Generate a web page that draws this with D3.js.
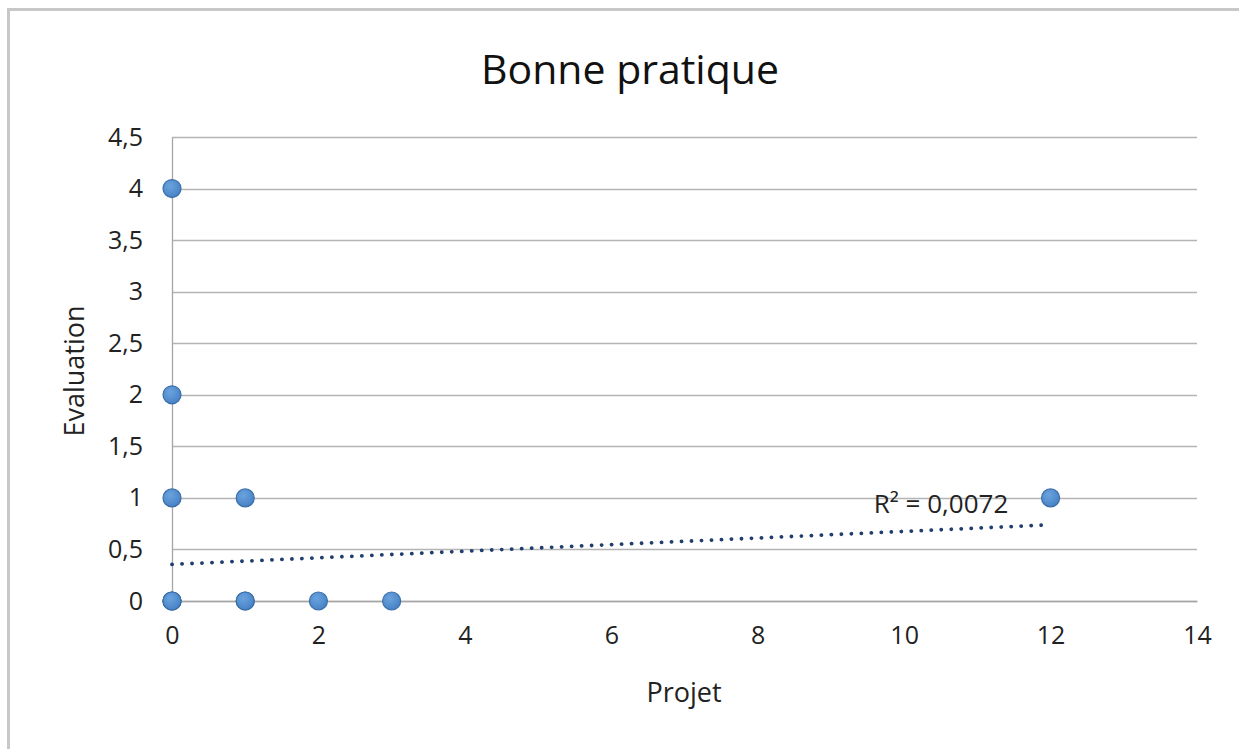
<!DOCTYPE html>
<html lang="fr">
  <head>
    <meta charset="UTF-8">
    <title>Bonne pratique</title>
    <style>
      body { margin: 0; background: #fff; }
      svg, svg text { font-family: "Open Sans", "Noto Sans", sans-serif; }
    </style>
    <script src="https://d3js.org/d3.v7.min.js"></script>
    <script>
      // x = projet, y = evaluation (some points overlap)
      var projet     = [0, 0, 0, 0, 0, 0, 1, 1, 1, 2, 3, 12];
      var evaluation = [4, 2, 1, 0, 0, 0, 1, 0, 0, 0, 0, 1];
      // linear trend line as drawn (intercept, slope) and its label
      var trend = [0.355, 0.032];
      var trendRange = [0, 12];
      var r2Label = "R² = 0,0072";
      var xTicks = [0, 2, 4, 6, 8, 10, 12, 14];
      var yTicks = [0, 0.5, 1, 1.5, 2, 2.5, 3, 3.5, 4, 4.5];

      window.onload = function () {
        var width = 1239, height = 749;
        var left = 172, right = 1197, top = 137, bottom = 601;

        var svg = d3.select("body").append("svg")
          .attr("width", width)
          .attr("height", height);

        // chart frame
        svg.append("rect")
          .attr("x", 8.5).attr("y", 9.5)
          .attr("width", 1260).attr("height", 780)
          .attr("fill", "#fff")
          .attr("stroke", "#c8c8c8")
          .attr("stroke-width", 3);

        var x = d3.scaleLinear().domain([0, 14]).range([left, right]);
        var y = d3.scaleLinear().domain([0, 4.5]).range([bottom, top]);
        var fmt = function (d) { return String(d).replace(".", ","); };

        // horizontal gridlines
        svg.append("g").selectAll("line").data(yTicks).enter().append("line")
          .attr("x1", left).attr("x2", right)
          .attr("y1", function (d) { return Math.round(y(d)) + 0.5; })
          .attr("y2", function (d) { return Math.round(y(d)) + 0.5; })
          .attr("stroke", "#b4b4b4")
          .attr("stroke-width", 1.3);

        var yAxis = d3.axisLeft(y).tickValues(yTicks).tickFormat(fmt).tickSize(0).tickPadding(29);
        var gy = svg.append("g").attr("transform", "translate(" + left + ",0)").call(yAxis)
          .attr("font-family", null).attr("font-size", null);
        gy.select(".domain").attr("stroke", "#a6a6a6").attr("stroke-width", 1.3);
        gy.selectAll("text").attr("font-size", 25).attr("fill", "#222");

        var xAxis = d3.axisBottom(x).tickValues(xTicks).tickFormat(fmt).tickSize(0).tickPadding(25);
        var gx = svg.append("g").attr("transform", "translate(0," + bottom + ")").call(xAxis)
          .attr("font-family", null).attr("font-size", null);
        gx.select(".domain").attr("stroke", "#a6a6a6").attr("stroke-width", 1.3);
        gx.selectAll("text").attr("font-size", 25).attr("fill", "#222");

        // title and axis titles
        svg.append("text").attr("x", 630).attr("y", 84)
          .attr("text-anchor", "middle").attr("font-size", 41).attr("fill", "#111")
          .text("Bonne pratique");
        svg.append("text").attr("x", 684).attr("y", 702)
          .attr("text-anchor", "middle").attr("font-size", 27).attr("fill", "#222")
          .text("Projet");
        svg.append("text")
          .attr("transform", "translate(84,371) rotate(-90)")
          .attr("text-anchor", "middle").attr("font-size", 27).attr("fill", "#222")
          .text("Evaluation");

        // trend line
        svg.append("line")
          .attr("x1", x(trendRange[0])).attr("y1", y(trend[0] + trend[1] * trendRange[0]))
          .attr("x2", x(trendRange[1])).attr("y2", y(trend[0] + trend[1] * trendRange[1]))
          .attr("stroke", "#1f3d6e")
          .attr("stroke-width", 3.8)
          .attr("stroke-linecap", "round")
          .attr("stroke-dasharray", "0.1 9.9");

        svg.append("text").attr("x", 941).attr("y", 513)
          .attr("text-anchor", "middle").attr("font-size", 26).attr("fill", "#222")
          .text(r2Label);

        // points
        var grad = svg.append("defs").append("radialGradient")
          .attr("id", "dot").attr("cx", "40%").attr("cy", "35%").attr("r", "70%");
        grad.append("stop").attr("offset", "0%").attr("stop-color", "#6aa3de");
        grad.append("stop").attr("offset", "100%").attr("stop-color", "#4580c4");

        var pts = projet.map(function (d, i) { return { x: d, y: evaluation[i] }; });
        svg.append("g").selectAll("circle").data(pts).enter().append("circle")
          .attr("cx", function (d) { return x(d.x); })
          .attr("cy", function (d) { return y(d.y); })
          .attr("r", 9)
          .attr("fill", "url(#dot)")
          .attr("stroke", "#3b6ea8")
          .attr("stroke-width", 1.2);
      };
    </script>
  </head>
  <body>
  </body>
</html>
